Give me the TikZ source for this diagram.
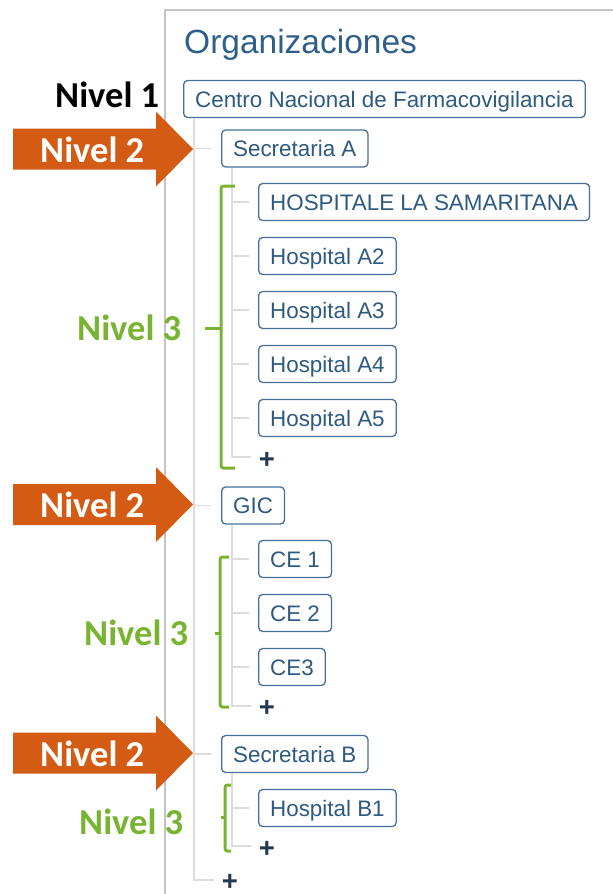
\documentclass[tikz,border=0pt]{standalone}
\usepackage{fontspec}
\setmainfont{Liberation Sans}
\newfontfamily\calibfont{Carlito}
\definecolor{boxc}{HTML}{46709A}
\definecolor{txtc}{HTML}{2D5A80}
\definecolor{titlec}{HTML}{2E5F8A}
\definecolor{linec}{HTML}{DCDCDC}
\definecolor{panelc}{HTML}{C4C4C4}
\definecolor{plusc}{HTML}{22384E}
\definecolor{orangec}{HTML}{D35B13}
\definecolor{greenc}{HTML}{78B431}
\begin{document}
\begin{tikzpicture}[x=1bp,y=-1bp,
  box/.style={draw=boxc, line width=1.3bp, rounded corners=4bp, text=txtc,
    font=\fontsize{22.4bp}{26bp}\selectfont, inner xsep=11.5bp, inner ysep=0pt,
    minimum height=37bp, text height=16bp, text depth=0pt, anchor=west, fill=white},
  branch/.style={draw=linec, line width=1.5bp},
  plusnode/.style={text=plusc, font=\bfseries\fontsize{27.5bp}{29bp}\selectfont, inner sep=0pt},
  lvlarrow/.style={fill=orangec},
  arrowtext/.style={text=white, font=\calibfont\bfseries\fontsize{36.5bp}{39bp}\selectfont, anchor=base west, inner sep=0pt},
  greentext/.style={text=greenc, font=\calibfont\bfseries\fontsize{36.5bp}{39bp}\selectfont, anchor=base west, inner sep=0pt},
  bracepath/.style={draw=greenc, line width=3bp, rounded corners=2.5bp},
  panel/.style={draw=panelc, line width=2bp}
]
\useasboundingbox (0,0) rectangle (613,894);

% panel border
\draw[panel] (164.5,894) -- (164.5,10) -- (613,10);

% title
\node[text=titlec, font=\fontsize{33.5bp}{36bp}\selectfont, anchor=base west, inner sep=0pt] (title) at (184,53) {Organizaciones};

% tree nodes
\node[box] (root) at (183,99) {Centro Nacional de Farmacovigilancia};
\node[box] (secA) at (221,148.5) {Secretaria A};
\node[box] (hA1) at (258,202) {HOSPITALE LA SAMARITANA};
\node[box] (hA2) at (258,256) {Hospital A2};
\node[box] (hA3) at (258,310) {Hospital A3};
\node[box] (hA4) at (258,364) {Hospital A4};
\node[box] (hA5) at (258,418) {Hospital A5};
\node[plusnode] (plusA) at (267,460) {+};
\node[box] (gic) at (221,505.5) {GIC};
\node[box] (ce1) at (258,559) {CE 1};
\node[box] (ce2) at (258,613) {CE 2};
\node[box] (ce3) at (258,667) {CE3};
\node[plusnode] (plusG) at (267,708) {+};
\node[box] (secB) at (221,754) {Secretaria B};
\node[box] (hB1) at (258,808) {Hospital B1};
\node[plusnode] (plusB) at (267,849) {+};
\node[plusnode] (plusR) at (230,882) {+};

% tree connectors (level 1 trunk)
\draw[branch] ([xshift=11bp]root.south west) |- ([xshift=-8bp,yshift=2bp]plusR.west);
\foreach \n in {secA,gic,secB}
  \draw[branch] ([xshift=-27bp]\n.west) -- ([xshift=-10bp]\n.west);
% level 2 trunks
\draw[branch] ([xshift=11bp]secA.south west) |- ([xshift=-8bp,yshift=3bp]plusA.west);
\foreach \n in {hA1,hA2,hA3,hA4,hA5}
  \draw[branch] ([xshift=-26bp]\n.west) -- ([xshift=-9bp]\n.west);
\draw[branch] ([xshift=11bp]gic.south west) |- ([xshift=-8bp,yshift=2bp]plusG.west);
\foreach \n in {ce1,ce2,ce3}
  \draw[branch] ([xshift=-26bp]\n.west) -- ([xshift=-9bp]\n.west);
\draw[branch] ([xshift=11bp]secB.south west) |- ([xshift=-8bp,yshift=3bp]plusB.west);
\draw[branch] ([xshift=-26bp]hB1.west) -- ([xshift=-9bp]hB1.west);

% level 1 label
\node[text=black, font=\calibfont\bfseries\fontsize{36.5bp}{39bp}\selectfont, anchor=base west, inner sep=0pt] (n1) at (55,107) {Nivel 1};

% level 2 arrows
\foreach \c/\nm in {149/a,504.5/b,753/c} {
  \fill[lvlarrow] (13,\c-20.5) -- (156,\c-20.5) -- (156,\c-37.5) -- (193,\c) -- (156,\c+37.5) -- (156,\c+20.5) -- (13,\c+20.5) -- cycle;
  \node[arrowtext] (n2\nm) at (40,\c+13) {Nivel 2};
}

% level 3 braces
\draw[bracepath] (235,186) -- (221,186) -- (221,468) -- (235,468);
\draw[draw=greenc, line width=3bp] (205,328) -- (222,328);
\node[greentext] (n3a) at (77,340) {Nivel 3};

\draw[bracepath] (229,557) -- (220,557) -- (220,707) -- (229,707);
\draw[draw=greenc, line width=3bp] (215,633) -- (221,633);
\node[greentext] (n3b) at (84,645) {Nivel 3};

\draw[bracepath] (231,785) -- (225,785) -- (225,851) -- (231,851);
\draw[draw=greenc, line width=3bp] (221,817) -- (226,817);
\node[greentext] (n3c) at (79,834) {Nivel 3};
\end{tikzpicture}
\end{document}
